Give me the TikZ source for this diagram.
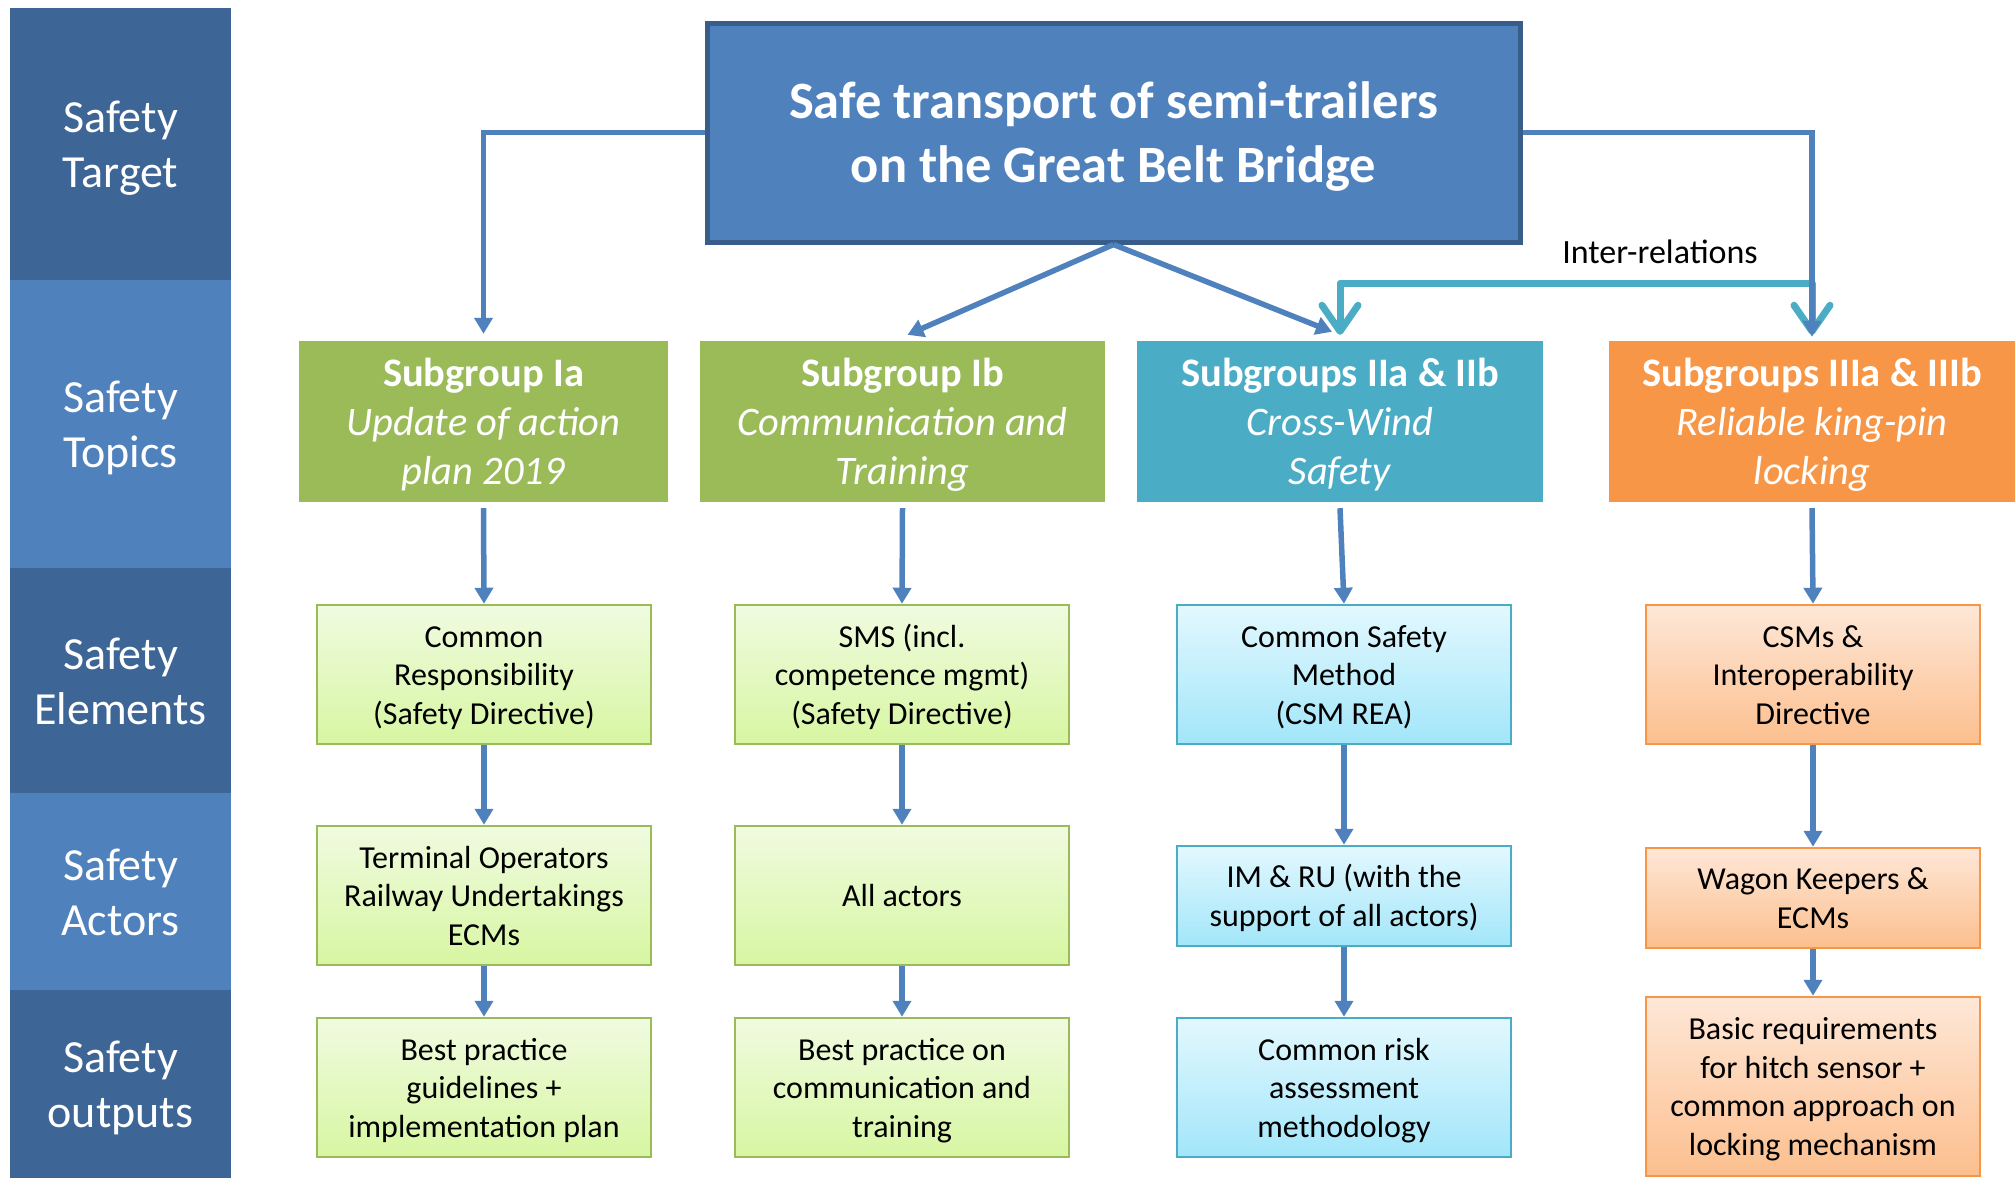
\documentclass[tikz,border=0pt]{standalone}
\usepackage{fontspec}
\setmainfont{Carlito}
\usetikzlibrary{arrows.meta}

\definecolor{bandDark}{HTML}{3D6595}
\definecolor{bandLight}{HTML}{4F81BD}
\definecolor{titleFill}{HTML}{4F81BD}
\definecolor{titleEdge}{HTML}{385D8A}
\definecolor{flowBlue}{HTML}{4F81BD}
\definecolor{interTeal}{HTML}{4BACC6}
\definecolor{topicGreen}{HTML}{9BBB59}
\definecolor{topicTeal}{HTML}{4BACC6}
\definecolor{topicOrange}{HTML}{F79646}
\definecolor{grnTop}{HTML}{F0FBE0}
\definecolor{grnBot}{HTML}{D7F6A2}
\definecolor{bluTop}{HTML}{E3F8FE}
\definecolor{bluBot}{HTML}{A2E6FA}
\definecolor{orgTop}{HTML}{FEE7D7}
\definecolor{orgBot}{HTML}{FCBF8E}

% struts that give every text block the same room above its first line
% and below its last line
\newcommand\firststrut{\rule{0pt}{0.97em}}
\newcommand\laststrut{\rule[-0.27em]{0pt}{0.27em}}

\begin{document}
\begin{tikzpicture}[x=1pt,y=-1pt,
  band/.style={fill=#1, draw=none, minimum width=221pt, inner sep=0pt,
    text=white, align=center, font=\fontsize{46}{55}\selectfont},
  topic/.style={fill=#1, draw=none, minimum height=161pt, inner sep=0pt,
    text=white, align=center, font=\fontsize{40.5}{49}\selectfont},
  infobox/.style={line width=2.5pt, minimum width=334pt, inner sep=0pt,
    text=black, align=center, font=\fontsize{32}{38.5}\selectfont},
  greenbox/.style={infobox, draw=topicGreen, top color=grnTop, bottom color=grnBot},
  bluebox/.style={infobox, draw=topicTeal, top color=bluTop, bottom color=bluBot},
  orangebox/.style={infobox, draw=topicOrange, top color=orgTop, bottom color=orgBot},
  flow/.style={draw=flowBlue, line width=5.5pt, -{Triangle[length=16pt,width=18pt]}},
  inter/.style={draw=interTeal, line width=7pt, line join=round,
    {Straight Barb[length=26pt,width=36pt,round]}-{Straight Barb[length=26pt,width=36pt,round]}}
]
\useasboundingbox (0,0) rectangle (2015,1178);

% level bands on the left
\node[band=bandDark,  minimum height=272pt] (bTarget)   at (120.5,144)  {\firststrut Safety\\Target\laststrut};
\node[band=bandLight, minimum height=288pt] (bTopics)   at (120.5,424)  {\firststrut Safety\\Topics\laststrut};
\node[band=bandDark,  minimum height=225pt] (bElements) at (120.5,680.5) {\firststrut Safety\\Elements\laststrut};
\node[band=bandLight, minimum height=197pt] (bActors)   at (120.5,891.5) {\firststrut Safety\\Actors\laststrut};
\node[band=bandDark,  minimum height=188pt] (bOutputs)  at (120.5,1084) {\firststrut Safety\\outputs\laststrut};

% safety target
\node[fill=titleFill, draw=titleEdge, line width=5pt, minimum width=813pt,
      minimum height=219pt, inner sep=0pt, text=white, align=center,
      font=\fontsize{52.5}{64}\selectfont\bfseries] (title) at (1113.5,132.5)
  {\firststrut Safe transport of semi-trailers\\on the Great Belt Bridge\laststrut};

% safety topics
\node[topic=topicGreen, minimum width=369pt] (tIa) at (483.5,421.5)
  {\firststrut\textbf{Subgroup Ia}\\\textit{Update of action}\\\textit{plan 2019}\laststrut};
\node[topic=topicGreen, minimum width=405pt] (tIb) at (902.5,421.5)
  {\firststrut\textbf{Subgroup Ib}\\\textit{Communication and}\\\textit{Training}\laststrut};
\node[topic=topicTeal, minimum width=406pt] (tII) at (1340,421.5)
  {\firststrut\textbf{Subgroups IIa \& IIb}\\\textit{Cross-Wind}\\\textit{Safety}\laststrut};
\node[topic=topicOrange, minimum width=406pt] (tIII) at (1812,421.5)
  {\firststrut\textbf{Subgroups IIIa \& IIIb}\\\textit{Reliable king-pin}\\\textit{locking}\laststrut};

% safety elements
\node[greenbox, minimum height=139pt] (eIa) at (484,674.5)
  {\firststrut Common\\Responsibility\\(Safety Directive)\laststrut};
\node[greenbox, minimum height=139pt] (eIb) at (902,674.5)
  {\firststrut SMS (incl.\\competence mgmt)\\(Safety Directive)\laststrut};
\node[bluebox, minimum height=139pt] (eII) at (1344,674.5)
  {\firststrut Common Safety\\Method\\(CSM REA)\laststrut};
\node[orangebox, minimum height=139pt] (eIII) at (1813,674.5)
  {\firststrut CSMs \&\\Interoperability\\Directive\laststrut};

% safety actors
\node[greenbox, minimum height=139pt] (aIa) at (484,895.5)
  {\firststrut Terminal Operators\\Railway Undertakings\\ECMs\laststrut};
\node[greenbox, minimum height=139pt] (aIb) at (902,895.5)
  {\firststrut All actors\laststrut};
\node[bluebox, minimum height=100pt] (aII) at (1344,896)
  {\firststrut IM \& RU (with the\\support of all actors)\laststrut};
\node[orangebox, minimum height=100pt] (aIII) at (1813,898)
  {\firststrut Wagon Keepers \&\\ECMs\laststrut};

% safety outputs
\node[greenbox, minimum height=139pt] (oIa) at (484,1087.5)
  {\firststrut Best practice\\guidelines +\\implementation plan\laststrut};
\node[greenbox, minimum height=139pt] (oIb) at (902,1087.5)
  {\firststrut Best practice on\\communication and\\training\laststrut};
\node[bluebox, minimum height=139pt] (oII) at (1344,1087.5)
  {\firststrut Common risk\\assessment\\methodology\laststrut};
\node[orangebox, minimum height=179pt] (oIII) at (1813,1086.5)
  {\firststrut Basic requirements\\for hitch sensor +\\common approach on\\locking mechanism\laststrut};

% target to topics
\draw[flow] (title.west) -| ([yshift=7pt]tIa.north);
\draw[flow] (title.south) -- ([shift={(5pt,6pt)}]tIb.north);
\draw[flow] (title.south) -- ([shift={(-8pt,9pt)}]tII.north);

% inter-relations between the wind and king-pin topics
\coordinate (irCorner) at (1812,283);
\draw[inter] ([yshift=6pt]tII.north) |- (irCorner) -- ([yshift=6pt]tIII.north);
\node[font=\fontsize{34}{40}\selectfont, text=black] (irLabel) at (1660,252) {Inter-relations};

\draw[flow] (title.east) -| ([yshift=4pt]tIII.north);

% topic columns
\foreach \c in {Ia,Ib,II,III}{
  \draw[flow] ([yshift=-6pt]t\c.south) -- (e\c.north);
  \draw[flow] (e\c.south) -- (a\c.north);
  \draw[flow] (a\c.south) -- (o\c.north);
}
\end{tikzpicture}
\end{document}
